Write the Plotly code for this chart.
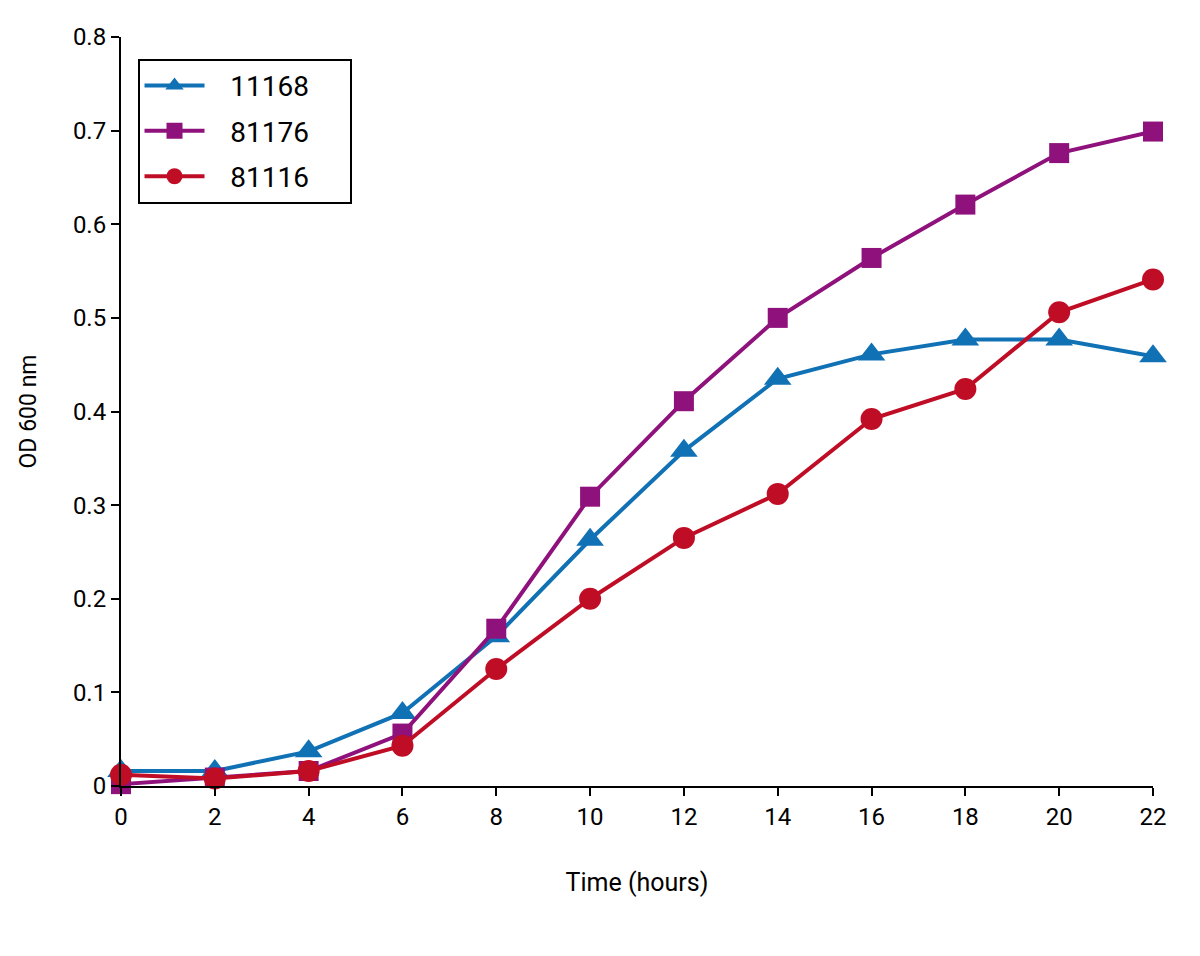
import plotly.graph_objects as go

# ==================== Data ====================
hours = [0, 2, 4, 6, 8, 10, 12, 14, 16, 18, 20, 22]
od_11168 = [0.016, 0.016, 0.037, 0.078, 0.160, 0.263, 0.358, 0.435, 0.461, 0.477, 0.477, 0.459]
od_81176 = [0.002, 0.009, 0.016, 0.056, 0.168, 0.309, 0.411, 0.500, 0.564, 0.621, 0.676, 0.699]
od_81116 = [0.012, 0.008, 0.016, 0.043, 0.125, 0.200, 0.265, 0.312, 0.392, 0.424, 0.506, 0.541]

series = [
    ('11168', od_11168, '#1071b5', 'triangle-up', 24),
    ('81176', od_81176, '#8f127c', 'square', 20),
    ('81116', od_81116, '#c00d26', 'circle', 22),
]

# ==================== Plot ====================
fig = go.Figure()

pad = '\u00a0'
for name, vals, color, symbol, size in series:
    fig.add_trace(go.Scatter(
        x=hours,
        y=vals,
        mode='lines+markers',
        name=pad * 3 + name + pad * 5,
        legendgroup=name,
        line=dict(color=color, width=4),
        marker=dict(symbol=symbol, size=size, color=color),
        cliponaxis=False
    ))

# ==================== Layout Settings ====================
# page body adds an 8px offset, so the figure is 8px smaller than the window
fig.update_layout(
    width=1192,
    height=948,
    margin=dict(l=113, r=47, t=29, b=170),
    plot_bgcolor='white',
    paper_bgcolor='white',
    font=dict(family='Roboto', size=24, color='black'),
    showlegend=True,
    legend=dict(
        x=0.016, y=0.971, xanchor='left', yanchor='top',
        bordercolor='black', borderwidth=2,
        font=dict(size=28),
        itemwidth=60,
        tracegroupgap=6,
        bgcolor='white'
    ),
    xaxis=dict(
        range=[0, 22], automargin=False,
        tickmode='array', tickvals=hours,
        showline=True, linecolor='black', linewidth=2,
        ticks='outside', ticklen=8, tickwidth=2, tickcolor='black',
        showgrid=False, zeroline=False,
        title=dict(text='Time (hours)', font=dict(size=25), standoff=44)
    ),
    yaxis=dict(
        range=[0, 0.8], automargin=False,
        tickmode='array', tickvals=[0, 0.1, 0.2, 0.3, 0.4, 0.5, 0.6, 0.7, 0.8],
        ticktext=['0', '0.1', '0.2', '0.3', '0.4', '0.5', '0.6', '0.7', '0.8'],
        showline=True, linecolor='black', linewidth=2,
        ticks='outside', ticklen=8, tickwidth=2, tickcolor='black',
        showgrid=False, zeroline=False,
        title=dict(text='OD 600 nm', font=dict(size=23), standoff=30)
    ),
)

fig.write_html("out.html")
